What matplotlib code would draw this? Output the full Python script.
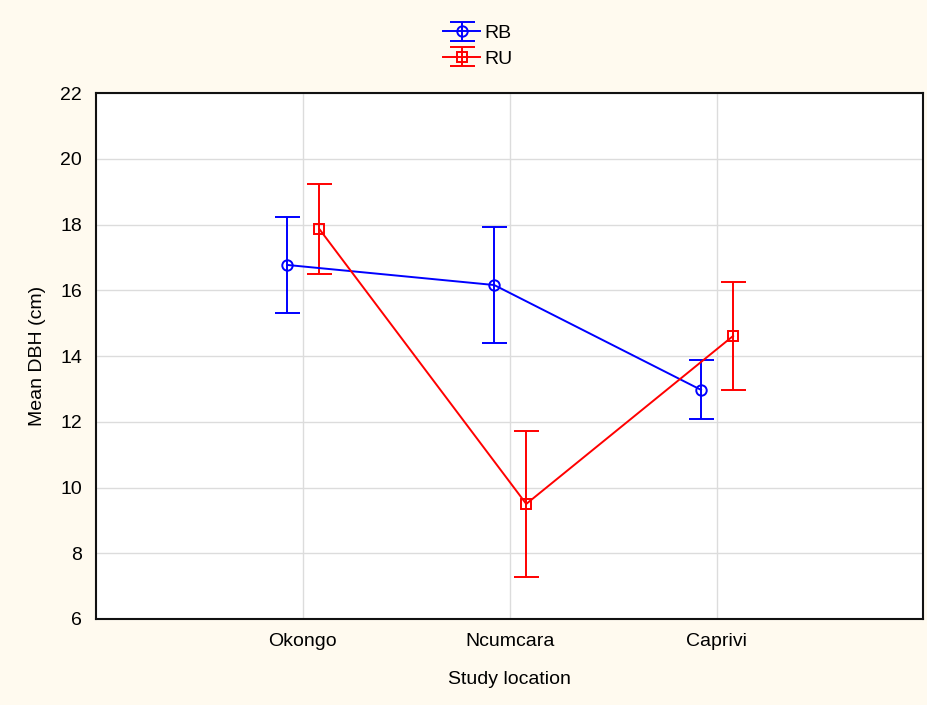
import numpy as np
import matplotlib.pyplot as plt

plt.rcParams['font.family'] = ['Liberation Sans', 'DejaVu Sans']

locations = ['Okongo', 'Ncumcara', 'Caprivi']
rb_mean = [16.77, 16.16, 12.97]
rb_err = [1.47, 1.77, 0.90]
ru_mean = [17.86, 9.50, 14.61]
ru_err = [1.37, 2.21, 1.64]

x = np.arange(len(locations))

fig = plt.figure(figsize=(9.28, 7.05), dpi=100, facecolor='#fffaef')
ax = fig.add_axes([0.1035, 0.122, 0.8915, 0.746])

ax.errorbar(x - 0.075, rb_mean, yerr=rb_err, color='#0000ff', marker='o',
            markersize=7.5, mfc='none', mew=1.4, lw=1.4, capsize=9, elinewidth=1.4,
            capthick=1.4, label='RB', zorder=3)
ax.errorbar(x + 0.08, ru_mean, yerr=ru_err, color='#ff0000', marker='s',
            markersize=7, mfc='none', mew=1.4, lw=1.4, capsize=9, elinewidth=1.4,
            capthick=1.4, label='RU', zorder=3)

ax.set_xlim(-1, 3)
ax.set_ylim(6, 22)
ax.set_yticks(np.arange(6, 23, 2))
ax.set_xticks(x)
ax.set_xticklabels(locations)
ax.grid(True, color='#dcdcdc', lw=1)
ax.set_axisbelow(True)
ax.tick_params(length=0, labelsize=14, pad=10)
for s in ax.spines.values():
    s.set_linewidth(1.5)
    s.set_color('#111111')

ax.set_xlabel('Study location', fontsize=14, labelpad=15)
ax.set_ylabel('Mean DBH (cm)', fontsize=14, labelpad=10)

fig.legend(loc='upper center', bbox_to_anchor=(0.515, 0.99), frameon=False,
           fontsize=14, handlelength=1.9, labelspacing=0.4, handletextpad=0.2)

fig.savefig('out.png', dpi=100, facecolor=fig.get_facecolor())
